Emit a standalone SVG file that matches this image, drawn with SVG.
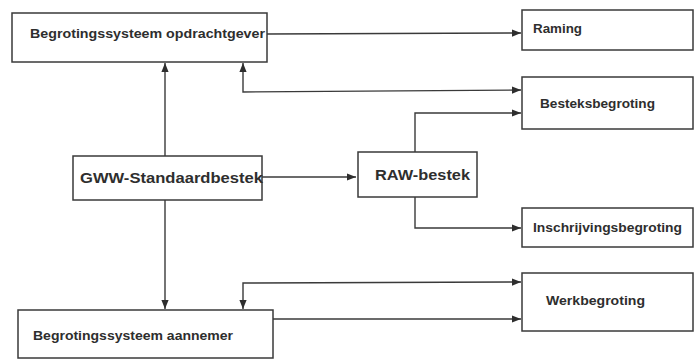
<svg xmlns="http://www.w3.org/2000/svg" width="694" height="360" viewBox="0 0 694 360">
<style>
.box{fill:#fff;stroke:#3a3a3a;stroke-width:1.5}
.t{font-family:"Liberation Sans",Arial,sans-serif;font-weight:bold;fill:#2e2e2e}
.s{font-size:12.5px}
.l{font-size:15px}
.c{fill:none;stroke:#3a3a3a;stroke-width:1.4}
</style>
<defs>
<marker id="a" viewBox="0 0 10 10" refX="10" refY="5" markerWidth="9" markerHeight="9" markerUnits="userSpaceOnUse" orient="auto-start-reverse">
<path d="M0,1 L10,5 L0,9 Z" fill="#2e2e2e"/>
</marker>
</defs>
<rect width="694" height="360" fill="#fff"/>
<g id="connectors">
<path class="c" d="M267,34 L521,33" marker-end="url(#a)"/>
<path class="c" d="M243,63 L243,92 L521,90" marker-start="url(#a)" marker-end="url(#a)"/>
<path class="c" d="M415,152 L415,113 L521,113" marker-end="url(#a)"/>
<path class="c" d="M415,197 L415,228 L521,228" marker-end="url(#a)"/>
<path class="c" d="M262,177 L356,177" marker-end="url(#a)"/>
<path class="c" d="M165,156 L165,63" marker-end="url(#a)"/>
<path class="c" d="M165,200 L165,309" marker-end="url(#a)"/>
<path class="c" d="M243,309 L243,283 L521,282" marker-start="url(#a)" marker-end="url(#a)"/>
<path class="c" d="M273,319 L521,319" marker-end="url(#a)"/>
</g>
<g id="opdrachtgever">
<rect class="box" x="12" y="13" width="255" height="49"/>
<text class="t s" x="30" y="38" textLength="235" lengthAdjust="spacingAndGlyphs">Begrotingssysteem opdrachtgever</text>
</g>
<g id="raming">
<rect class="box" x="522" y="10" width="171" height="40"/>
<text class="t s" x="533" y="33" textLength="49" lengthAdjust="spacingAndGlyphs">Raming</text>
</g>
<g id="besteksbegroting">
<rect class="box" x="522" y="77" width="171" height="52"/>
<text class="t s" x="540" y="108" textLength="115" lengthAdjust="spacingAndGlyphs">Besteksbegroting</text>
</g>
<g id="gww">
<rect class="box" x="73" y="156" width="189" height="44"/>
<text class="t l" x="80" y="183" textLength="183" lengthAdjust="spacingAndGlyphs">GWW-Standaardbestek</text>
</g>
<g id="raw">
<rect class="box" x="358" y="152" width="119" height="45"/>
<text class="t l" x="375" y="180" textLength="95" lengthAdjust="spacingAndGlyphs">RAW-bestek</text>
</g>
<g id="inschrijvingsbegroting">
<rect class="box" x="522" y="208" width="171" height="39"/>
<text class="t s" x="533" y="232" textLength="149" lengthAdjust="spacingAndGlyphs">Inschrijvingsbegroting</text>
</g>
<g id="werkbegroting">
<rect class="box" x="522" y="273" width="171" height="58"/>
<text class="t s" x="546" y="305" textLength="99" lengthAdjust="spacingAndGlyphs">Werkbegroting</text>
</g>
<g id="aannemer">
<rect class="box" x="18" y="310" width="255" height="48"/>
<text class="t s" x="33" y="340" textLength="200" lengthAdjust="spacingAndGlyphs">Begrotingssysteem aannemer</text>
</g>
</svg>
